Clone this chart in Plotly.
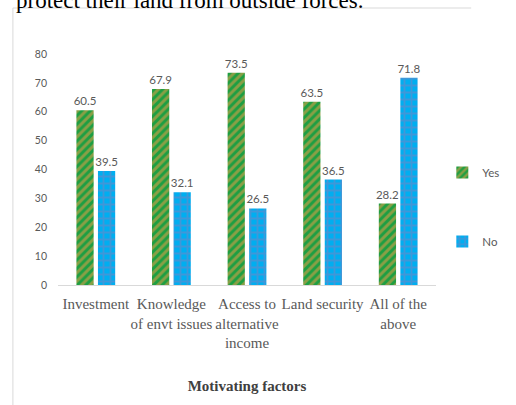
import plotly.graph_objects as go

categories = ["Investment", "Knowledge<br>of envt issues", "Access to<br>alternative<br>income",
              "Land security", "All of the<br>above"]
yes_values = [60.5, 67.9, 73.5, 63.5, 28.2]
no_values = [39.5, 32.1, 26.5, 36.5, 71.8]
y_ticks = [0, 10, 20, 30, 40, 50, 60, 70, 80]

W, H = 516, 405
L, R, T, B = 58, 39, 54, 120
pw, ph = W - L - R, H - T - B

def px_x(x):
    return (x - L) / pw

def px_y(y):
    return (H - B - y) / ph

grey = "#595959"
lab_font = dict(family="Lato, Open Sans, sans-serif", size=11.5, color=grey)

fig = go.Figure()
fig.add_trace(go.Bar(
    name="Yes", x=categories, y=yes_values,
    marker=dict(color="#1e9e42", line=dict(width=0),
                pattern=dict(shape="/", fgcolor="#f5a04a", fillmode="overlay", size=6, solidity=0.5)),
    texttemplate="%{y}", textposition="outside", textfont=lab_font, cliponaxis=False,
    constraintext="none", legendgroup="yes",
))
fig.add_trace(go.Bar(
    name="No", x=categories, y=no_values,
    marker=dict(color="#00aef0", line=dict(width=0),
                pattern=dict(shape="+", fgcolor="#7f7fbf", fillmode="overlay", size=7, solidity=0.45)),
    texttemplate="%{y}", textposition="outside", textfont=lab_font, cliponaxis=False,
    constraintext="none", legendgroup="no",
))

fig.update_layout(
    width=W, height=H,
    margin=dict(l=L, r=R, t=T, b=B, pad=0),
    paper_bgcolor="white", plot_bgcolor="white",
    barmode="group", bargap=0.43, bargroupgap=0.2,
    showlegend=True,
    legend=dict(x=px_x(484), y=px_y(158), xanchor="left", yanchor="top",
                font=dict(family="Lato, Open Sans, sans-serif", size=11.5, color=grey),
                tracegroupgap=50, traceorder="grouped", itemwidth=30,
                bgcolor="rgba(0,0,0,0)"),
    xaxis=dict(
        showline=True, linecolor="#d9d9d9", linewidth=1, ticks="", tickangle=0,
        ticklabelstandoff=5,
        tickfont=dict(family="Liberation Serif, Times New Roman, serif", size=15, color=grey),
        title=dict(text="<b>Motivating factors</b>", standoff=30,
                   font=dict(family="Liberation Serif, Times New Roman, serif", size=15, color="#404040")),
    ),
    yaxis=dict(
        range=[0, 80], tickvals=y_ticks, showgrid=False, zeroline=False, showline=False,
        ticks="", ticklabelstandoff=10,
        tickfont=dict(family="Lato, Open Sans, sans-serif", size=10.5, color=grey),
    ),
    shapes=[
        dict(type="line", xref="paper", yref="paper", x0=px_x(8), x1=px_x(516), y0=px_y(8), y1=px_y(8),
             line=dict(color="#d9d9d9", width=1)),
        dict(type="line", xref="paper", yref="paper", x0=px_x(8), x1=px_x(8), y0=px_y(8), y1=px_y(405),
             line=dict(color="#d9d9d9", width=1)),
    ],
    annotations=[
        dict(text="protect their land from outside forces.", xref="paper", yref="paper",
             x=px_x(9), y=px_y(15), xanchor="left", yanchor="bottom", showarrow=False,
             font=dict(family="Liberation Serif, Times New Roman, serif", size=23, color="black")),
    ],
)

fig.write_html("out.html")
